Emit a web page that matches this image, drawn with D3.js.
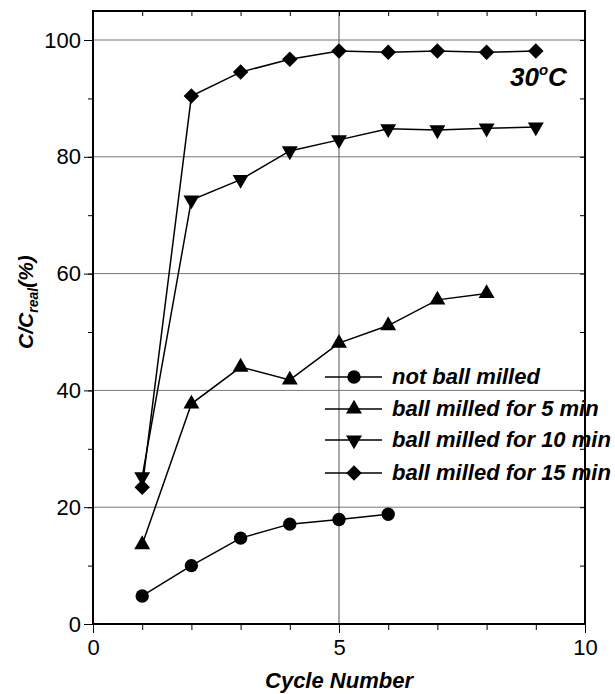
<!DOCTYPE html>
<html>
<head>
<meta charset="utf-8">
<script src="https://cdn.jsdelivr.net/npm/d3@7"></script>
<style>
  body { margin: 0; background: #fff; }
  svg { display: block; font-family: "Liberation Sans", Arial, sans-serif; }
</style>
</head>
<body>
<div id="chart"></div>
<script>
// values
const cycles = [1, 2, 3, 4, 5, 6, 7, 8, 9];
const notMilled = [4.8, 10, 14.7, 17.1, 17.9, 18.8];
const milled5 = [13.6, 37.7, 44, 41.8, 48.1, 51.1, 55.5, 56.6];
const milled10 = [25.2, 72.6, 76.1, 81, 82.9, 84.8, 84.6, 84.9, 85.1];
const milled15 = [23.4, 90.4, 94.5, 96.7, 98.1, 97.9, 98.1, 97.9, 98.1];
const seriesNames = ["not ball milled", "ball milled for 5 min", "ball milled for 10 min", "ball milled for 15 min"];
const xTicks = [0, 5, 10];
const yTicks = [0, 20, 40, 60, 80, 100];

const W = 615, H = 694;
const plot = { left: 93, right: 585, top: 11, bottom: 624 };

const svg = d3.select("#chart").append("svg")
    .attr("width", W)
    .attr("height", H);

const x = d3.scaleLinear().domain([0, 10]).range([plot.left, plot.right]);
const y = d3.scaleLinear().domain([0, 100]).range([plot.bottom, 40]); // 100 sits at y=40, frame goes higher

// grid
svg.append("g").selectAll("line")
    .data(yTicks.slice(1))
    .enter().append("line")
    .attr("x1", plot.left).attr("x2", plot.right)
    .attr("y1", d => y(d)).attr("y2", d => y(d))
    .attr("stroke", "#777").attr("stroke-width", 1);
svg.append("line")
    .attr("x1", x(5)).attr("x2", x(5))
    .attr("y1", plot.top).attr("y2", plot.bottom)
    .attr("stroke", "#555").attr("stroke-width", 1);

// axes
const minorX = d3.range(0, 11);
const minorY = d3.range(0, 101, 10);

svg.append("g")
    .attr("transform", "translate(0," + plot.bottom + ")")
    .call(d3.axisBottom(x).tickValues(minorX).tickSize(6).tickFormat(""))
    .call(g => g.select(".domain").remove());
svg.append("g")
    .attr("transform", "translate(0," + plot.bottom + ")")
    .call(d3.axisBottom(x).tickValues(xTicks).tickSize(9).tickPadding(6))
    .call(g => g.select(".domain").remove())
    .selectAll("text").attr("font-size", "22px").attr("font-family", "Liberation Sans, Arial, sans-serif");

svg.append("g")
    .attr("transform", "translate(" + plot.left + ",0)")
    .call(d3.axisLeft(y).tickValues(minorY).tickSize(5).tickFormat(""))
    .call(g => g.select(".domain").remove());
svg.append("g")
    .attr("transform", "translate(" + plot.left + ",0)")
    .call(d3.axisLeft(y).tickValues(yTicks).tickSize(9).tickPadding(3))
    .call(g => g.select(".domain").remove())
    .selectAll("text").attr("font-size", "22px").attr("font-family", "Liberation Sans, Arial, sans-serif");

// inward ticks on top and right
svg.append("g")
    .attr("transform", "translate(0," + plot.top + ")")
    .call(d3.axisBottom(x).tickValues(minorX).tickSize(5).tickFormat(""))
    .call(g => g.select(".domain").remove());
svg.append("g")
    .attr("transform", "translate(" + plot.right + ",0)")
    .call(d3.axisLeft(y).tickValues(minorY).tickSize(5).tickFormat(""))
    .call(g => g.select(".domain").remove());

// series
const series = [
    { name: seriesNames[0], values: notMilled, symbol: d3.symbolCircle, size: 140, rot: 0 },
    { name: seriesNames[1], values: milled5, symbol: d3.symbolTriangle, size: 110, rot: 0 },
    { name: seriesNames[2], values: milled10, symbol: d3.symbolTriangle, size: 110, rot: 180 },
    { name: seriesNames[3], values: milled15, symbol: d3.symbolSquare, size: 120, rot: 45 }
];

const line = d3.line()
    .x((d, i) => x(cycles[i]))
    .y(d => y(d));

series.forEach(s => {
    svg.append("path")
        .datum(s.values)
        .attr("d", line)
        .attr("fill", "none")
        .attr("stroke", "#000")
        .attr("stroke-width", 1.5);
    svg.append("g").selectAll("path")
        .data(s.values)
        .enter().append("path")
        .attr("d", d3.symbol().type(s.symbol).size(s.size))
        .attr("transform", (d, i) => "translate(" + x(cycles[i]) + "," + y(d) + ") rotate(" + s.rot + ")")
        .attr("fill", "#000");
});

// legend
const legendY = [377, 409, 440, 473];
const legend = svg.append("g");
series.forEach((s, i) => {
    const g = legend.append("g").attr("transform", "translate(0," + legendY[i] + ")");
    g.append("line").attr("x1", 325).attr("x2", 382).attr("y1", 0).attr("y2", 0)
        .attr("stroke", "#000").attr("stroke-width", 1.5);
    g.append("path")
        .attr("d", d3.symbol().type(s.symbol).size(s.size))
        .attr("transform", "translate(354,0) rotate(" + s.rot + ")");
    g.append("text")
        .attr("x", 392).attr("y", 7)
        .attr("font-size", "22px").attr("font-weight", "bold").attr("font-style", "italic")
        .text(s.name);
});

// frame drawn last so the right edge runs over the legend text
svg.append("rect")
    .attr("x", plot.left).attr("y", plot.top)
    .attr("width", plot.right - plot.left).attr("height", plot.bottom - plot.top)
    .attr("fill", "none").attr("stroke", "#000").attr("stroke-width", 2);

// annotation
const ann = svg.append("text")
    .attr("x", 510).attr("y", 86)
    .attr("font-size", "26px").attr("font-weight", "bold").attr("font-style", "italic");
ann.append("tspan").text("30");
ann.append("tspan").attr("dy", -11).attr("font-size", "15px").text("o");
ann.append("tspan").attr("dy", 11).text("C");

// axis titles
svg.append("text")
    .attr("x", x(5)).attr("y", 688)
    .attr("text-anchor", "middle")
    .attr("font-size", "22px").attr("font-weight", "bold").attr("font-style", "italic")
    .text("Cycle Number");

const yl = svg.append("text")
    .attr("transform", "translate(33,302) rotate(-90)")
    .attr("text-anchor", "middle")
    .attr("font-size", "21px").attr("font-weight", "bold").attr("font-style", "italic");
yl.append("tspan").text("C/C");
yl.append("tspan").attr("dy", 5).attr("font-size", "14px").text("real");
yl.append("tspan").attr("dy", -5).text("(%)");
</script>
</body>
</html>
